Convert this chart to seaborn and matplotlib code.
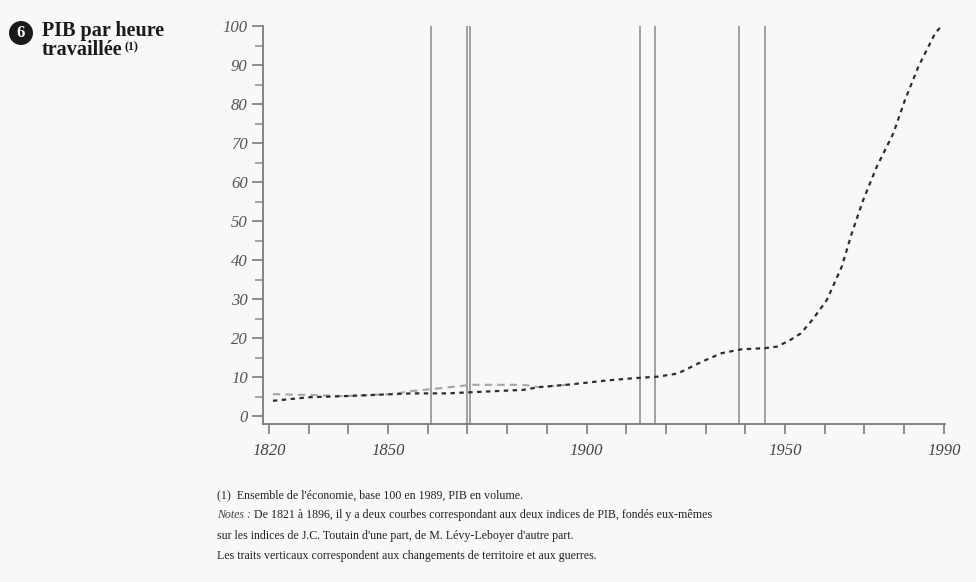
import matplotlib
matplotlib.use('Agg')
import matplotlib.pyplot as plt
import seaborn as sns
import pandas as pd
from matplotlib.patches import Circle

# Series 1 (lighter curve, 1821-1896)
years_a = [1821, 1830, 1839, 1851, 1856, 1863, 1871, 1884, 1888, 1896]
values_a = [5.6, 5.4, 5.1, 5.6, 6.4, 7.1, 8.0, 8.0, 7.4, 8.1]

# Series 2 (main curve, 1821-1989)
years_b = [1821, 1830, 1839, 1851, 1856, 1865, 1871, 1884, 1888, 1896, 1905,
           1912, 1918, 1923, 1929, 1934, 1939, 1945, 1948, 1951, 1954, 1957,
           1960.5, 1964.3, 1966.8, 1969.7, 1973.1, 1977.3, 1980.2, 1983.6,
           1987.8, 1989.4]
values_b = [3.9, 4.8, 5.1, 5.6, 5.8, 5.8, 6.1, 6.7, 7.4, 8.1, 9.1,
            9.7, 10.1, 10.9, 13.9, 16.1, 17.1, 17.4, 17.8, 19.3, 21.2, 24.8,
            29.7, 38.3, 46.8, 55.4, 63.9, 72.5, 81.0, 89.6,
            98.1, 100.0]

# Changes of territory and wars (positions as drawn)
event_years = [1860.7, 1869.8, 1870.7, 1913.5, 1917.3, 1938.5, 1945.0]

x_ticks = list(range(1820, 1991, 10))
x_tick_labels = [1820, 1850, 1900, 1950, 1990]
y_ticks = list(range(0, 101, 10))
y_minor_ticks = list(range(5, 100, 10))

title_lines = ["PIB par heure", "travaillée"]
note_1 = "(1)  Ensemble de l'économie, base 100 en 1989, PIB en volume."
note_label = "Notes :"
note_2 = "De 1821 à 1896, il y a deux courbes correspondant aux deux indices de PIB, fondés eux-mêmes"
note_3 = "sur les indices de J.C. Toutain d'une part, de M. Lévy-Leboyer d'autre part."
note_4 = "Les traits verticaux correspondent aux changements de territoire et aux guerres."

sns.set_style('ticks')
plt.rcParams['font.family'] = ['Liberation Serif', 'DejaVu Serif']

W, H = 976, 582
bg = '#f8f8f7'
fig = plt.figure(figsize=(W / 100, H / 100), dpi=100, facecolor=bg)
ax = fig.add_axes([263 / W, 1 - 424 / H, (945 - 263) / W, (424 - 26) / H])
ax.set_facecolor('none')

for yr in event_years:
    ax.axvline(yr, color='#a0a0a0', lw=1.4, zorder=1)

df_a = pd.DataFrame({'annee': years_a, 'pib': values_a})
df_b = pd.DataFrame({'annee': years_b, 'pib': values_b})
sns.lineplot(data=df_a, x='annee', y='pib', ax=ax, color='#a5a5a5', lw=1.5,
             linestyle=(0, (3.5, 2.5)), zorder=2)
sns.lineplot(data=df_b, x='annee', y='pib', ax=ax, color='#2e2e2e', lw=1.6,
             linestyle=(0, (2.0, 2.0)), zorder=3)

ax.set_xlim(1818.5, 1990.3)
ax.set_ylim(-2.05, 100)
ax.set_xlabel('')
ax.set_ylabel('')

ax.set_xticks(x_ticks)
ax.set_xticklabels([str(t) if t in x_tick_labels else '' for t in x_ticks])
ax.set_yticks(y_ticks)
ax.set_yticklabels([str(t) for t in y_ticks])
ax.set_yticks(y_minor_ticks, minor=True)

ax.tick_params(axis='x', direction='out', length=7, width=1.2, color='#7a7a7a',
               pad=7, labelsize=12, labelcolor='#444444')
ax.tick_params(axis='y', which='major', direction='out', length=8, width=1.2,
               color='#7a7a7a', pad=3, labelsize=12, labelcolor='#555555')
ax.tick_params(axis='y', which='minor', direction='out', length=6, width=1.1,
               color='#8a8a8a')
for lab in ax.get_xticklabels() + ax.get_yticklabels():
    lab.set_style('italic')

sns.despine(ax=ax)
for s in ['left', 'bottom']:
    ax.spines[s].set_color('#7a7a7a')
    ax.spines[s].set_linewidth(1.3)

# Title with numbered bullet
circ = Circle((21 / 100, (H - 33) / 100), 0.12, transform=fig.dpi_scale_trans,
              facecolor='#1a1a1a', edgecolor='none')
fig.patches.append(circ)
fig.text(21 / W, 1 - 33 / H, '6', ha='center', va='center', color='white',
         fontsize=12, weight='bold')
fig.text(42 / W, 1 - 36 / H, title_lines[0], fontsize=14.5, weight='bold',
         va='baseline', color='#1a1a1a')
t2 = fig.text(42 / W, 1 - 55 / H, title_lines[1], fontsize=14.5, weight='bold',
              va='baseline', color='#1a1a1a')
ax.annotate('(1)', xy=(1, 1), xycoords=t2, xytext=(1.5, -1), textcoords='offset points',
            fontsize=8.5, weight='bold', va='top', ha='left', color='#1a1a1a',
            annotation_clip=False)

# Notes
fs = 8.6
fig.text(217 / W, 1 - 498 / H, note_1, fontsize=fs, va='baseline', color='#222222')
tn = fig.text(217 / W, 1 - 518 / H, note_label, fontsize=fs, va='baseline',
              style='italic', color='#444444')
ax.annotate(note_2, xy=(1, 0), xycoords=tn, xytext=(2.5, 0), textcoords='offset points',
            fontsize=fs, va='bottom', ha='left', color='#222222', annotation_clip=False)
fig.text(217 / W, 1 - 539 / H, note_3, fontsize=fs, va='baseline', color='#222222')
fig.text(217 / W, 1 - 559 / H, note_4, fontsize=fs, va='baseline', color='#222222')

fig.savefig('out.png', dpi=100, facecolor=bg)
